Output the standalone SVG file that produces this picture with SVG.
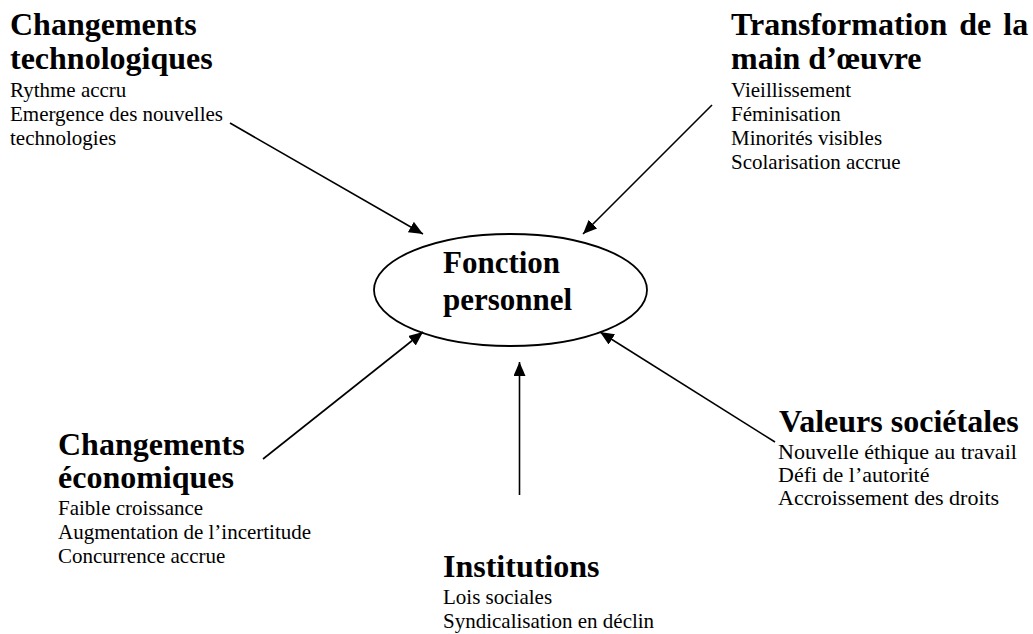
<svg xmlns="http://www.w3.org/2000/svg" width="1033" height="634" viewBox="0 0 1033 634">
<style>
text{font-family:"Liberation Serif","Times New Roman",serif;fill:#000}
.t{font-size:32px;font-weight:bold}
.tc{font-size:31px;font-weight:bold}
.b{font-size:21px}
.b2{font-size:22px}
.c{stroke:#000;stroke-width:1.6;fill:none}
</style>
<defs>
<marker id="ah" markerUnits="userSpaceOnUse" markerWidth="16" markerHeight="14" refX="14" refY="6" orient="auto">
<path d="M0,0 L14,6 L0,12 Z" fill="#000"/>
</marker>
</defs>
<rect width="1033" height="634" fill="#fff"/>
<g id="connectors">
<line class="c" x1="230" y1="123" x2="423" y2="234" marker-end="url(#ah)"/>
<line class="c" x1="712" y1="105" x2="583" y2="234" marker-end="url(#ah)"/>
<line class="c" x1="263" y1="459" x2="423" y2="332" marker-end="url(#ah)"/>
<line class="c" x1="775" y1="442" x2="600" y2="332" marker-end="url(#ah)"/>
<line class="c" x1="519.5" y1="495" x2="519.5" y2="362" marker-end="url(#ah)"/>
</g>
<g id="center">
<ellipse cx="510.5" cy="290" rx="136.5" ry="56" fill="none" stroke="#000" stroke-width="1.8"/>
<text class="tc" x="443" y="273">Fonction</text>
<text class="tc" x="443" y="310">personnel</text>
</g>
<g id="tech">
<text class="t" x="10" y="35">Changements</text>
<text class="t" x="10" y="69">technologiques</text>
<text class="b" x="10" y="97">Rythme accru</text>
<text class="b" x="10" y="121">Emergence des nouvelles</text>
<text class="b" x="10" y="145">technologies</text>
</g>
<g id="main-oeuvre">
<text class="t" x="731" y="35" word-spacing="4">Transformation de la</text>
<text class="t" x="731" y="69">main d’œuvre</text>
<text class="b" x="731" y="97">Vieillissement</text>
<text class="b" x="731" y="121">Féminisation</text>
<text class="b" x="731" y="145">Minorités visibles</text>
<text class="b" x="731" y="169">Scolarisation accrue</text>
</g>
<g id="eco">
<text class="t" x="58" y="455">Changements</text>
<text class="t" x="58" y="488">économiques</text>
<text class="b" x="58" y="515">Faible croissance</text>
<text class="b" x="58" y="539">Augmentation de l’incertitude</text>
<text class="b" x="58" y="563">Concurrence accrue</text>
</g>
<g id="valeurs">
<text class="t" x="779" y="432">Valeurs sociétales</text>
<text class="b2" x="778" y="459">Nouvelle éthique au travail</text>
<text class="b2" x="778" y="482">Défi de l’autorité</text>
<text class="b2" x="778" y="505">Accroissement des droits</text>
</g>
<g id="institutions">
<text class="t" x="443" y="577">Institutions</text>
<text class="b" x="443" y="604">Lois sociales</text>
<text class="b" x="443" y="628">Syndicalisation en déclin</text>
</g>
</svg>
